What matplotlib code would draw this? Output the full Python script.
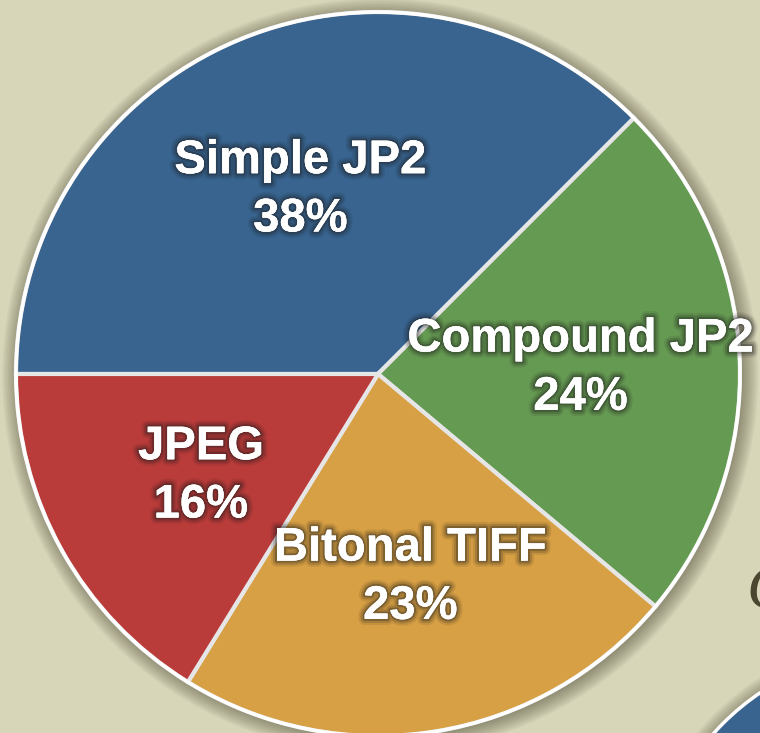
import matplotlib.pyplot as plt
import matplotlib.patheffects as pe
from matplotlib.patches import Circle
import numpy as np

# data
names = ['Simple JP2', 'Compound JP2', 'Bitonal TIFF', 'JPEG']
shares = [37.5, 23.6, 22.7, 16.2]
colors = ['#38648f', '#659a52', '#d8a044', '#b93b3a']

bg = '#d8d6b9'
W, H = 760, 733
cx, cy, R = 378, 359, 362   # pie centre (from bottom) and radius in px

fig = plt.figure(figsize=(W / 100, H / 100), dpi=100, facecolor=bg)
ax = fig.add_axes([0, 0, 1, 1])
ax.set_facecolor(bg)

# soft shadow round the pie
for k in range(12):
    ax.add_patch(Circle((0.006, -0.006), 1.0 + 0.004 * k, color='#4a4630',
                        alpha=0.05, lw=0, zorder=1))

# second blue circle peeking in at the bottom right corner
ox, oy, orr = (900 - cx) / R, (H - 900 - cy) / R, 250 / R
for k in range(10):
    ax.add_patch(Circle((ox, oy), orr + 0.004 * k, color='#4a4630',
                        alpha=0.05, lw=0, zorder=1))
ax.add_patch(Circle((ox, oy), orr, facecolor='#38648f', edgecolor='white',
                    lw=2.5, zorder=2))

wedges, _ = ax.pie(shares, colors=colors, startangle=180, counterclock=False,
                   radius=1.0, center=(0, 0), frame=True,
                   wedgeprops=dict(edgecolor='#e6e6e6', linewidth=3))
for w in wedges:
    w.set_zorder(3)
ax.set_xlim(-cx / R, (W - cx) / R)
ax.set_ylim(-cy / R, (H - cy) / R)
ax.set_aspect('equal')
ax.axis('off')
ax.add_patch(Circle((0, 0), 1.0, facecolor='none', edgecolor='white',
                    lw=2.5, zorder=4))

shadow = [pe.withStroke(linewidth=9, foreground='#1a1a1a', alpha=0.1),
          pe.withStroke(linewidth=6, foreground='#1a1a1a', alpha=0.18),
          pe.withStroke(linewidth=3, foreground='#1a1a1a', alpha=0.28),
          pe.Normal()]

for w, name, s in zip(wedges, names, shares):
    mid = np.deg2rad((w.theta1 + w.theta2) / 2)
    x, y = 0.56 * np.cos(mid), 0.56 * np.sin(mid)
    ax.text(x, y - 0.01, f'{name}\n{s:.0f}%', ha='center', va='center',
            color='white', fontsize=34, fontweight='bold',
            family='Liberation Sans', linespacing=1.42, zorder=5,
            path_effects=shadow)

# cut-off slide text at the right edge (cut in the reference too)
ax.text((746 - cx) / R, (H - 592 - cy) / R, 'C', color='#4a4630',
        fontsize=46, style='italic', family='Liberation Serif',
        ha='left', va='center', zorder=5)

fig.savefig('out.png', dpi=100, facecolor=bg)
